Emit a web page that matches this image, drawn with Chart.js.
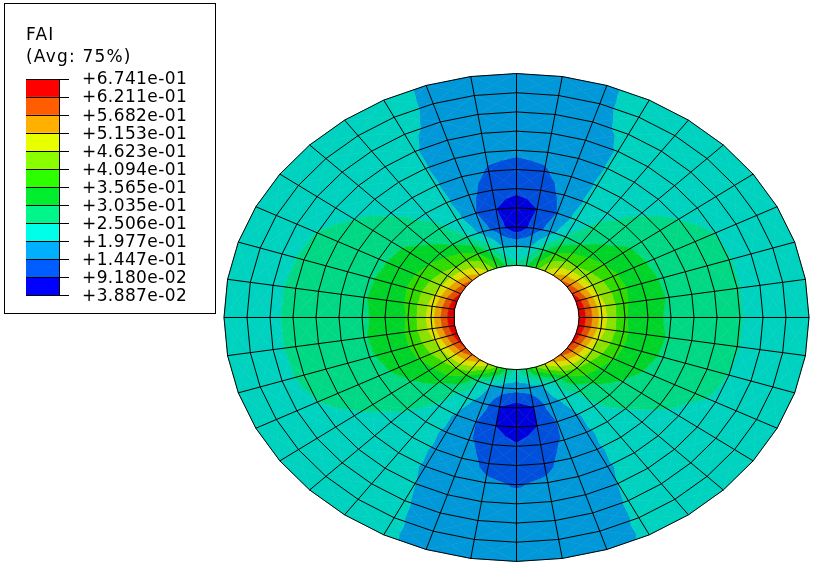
<!DOCTYPE html>
<html>
<head>
<meta charset="utf-8">
<title>FAI contour</title>
<script src="https://cdn.jsdelivr.net/npm/chart.js"></script>
<style>
  html, body { margin: 0; padding: 0; background: #fff; }
  #disc { position: absolute; left: 0; top: 0; }
  #keybox { position: absolute; left: 4px; top: 3px; width: 210px; height: 309px; border: 1px solid #000; background: #fff; }
  #key { position: absolute; left: 0; top: 0; }
  #keytitle { position: absolute; left: 26px; top: 23px; font: 17px/22px "DejaVu Sans"; letter-spacing: 1.2px; color: #000; white-space: pre; }
</style>
</head>
<body>
<canvas id="disc" width="819" height="571"></canvas>
<div id="keybox"></div>
<canvas id="key" width="216" height="319"></canvas>
<div id="keytitle">FAI
(Avg: 75%)</div>
<script>
// mesh: ring radii and spoke angles (degrees clockwise from top)
const ringRadii = [62.5, 85.5, 108.5, 131.5, 154.5, 177.5, 200.5, 223.5, 246.5, 269.5, 292.5];
const spokeAngles = [0, 9, 18, 27, 36, 45, 54, 63, 72, 81, 90, 99, 108, 117, 126, 135, 144, 153, 162, 171,
  180, 189, 198, 207, 216, 225, 234, 243, 252, 261, 270, 279, 288, 297, 306, 315, 324, 333, 342, 351];

// contour levels, top of the key first
const tickLabels = ['+6.741e-01', '+6.211e-01', '+5.682e-01', '+5.153e-01', '+4.623e-01', '+4.094e-01', '+3.565e-01',
  '+3.035e-01', '+2.506e-01', '+1.977e-01', '+1.447e-01', '+9.180e-02', '+3.887e-02'];
const levels = [0.03887, 0.0918, 0.1447, 0.1977, 0.2506, 0.3035, 0.3565, 0.4094, 0.4623, 0.5153, 0.5682, 0.6211, 0.6741];

// FAI at each node, one row per spoke, inner ring first
const nodalFai = [
  [.265, .19, .05, .05, .11, .13, .152, .155, .158, .16, .16],
  [.30, .2, .11, .092, .115, .14, .155, .155, .157, .16, .16],
  [.38, .28, .17, .145, .16, .165, .175, .18, .19, .193, .194],
  [.46, .36, .25, .215, .205, .202, .20, .20, .204, .206, .206],
  [.52, .395, .30, .262, .235, .225, .215, .21, .21, .212, .215],
  [.57, .41, .33, .29, .265, .245, .235, .225, .22, .218, .217],
  [.60, .43, .355, .318, .285, .272, .25, .235, .228, .225, .223],
  [.625, .45, .365, .325, .29, .282, .27, .25, .235, .23, .228],
  [.66, .47, .37, .325, .297, .288, .272, .252, .24, .233, .23],
  [.672, .485, .365, .322, .30, .287, .272, .252, .24, .235, .23],
  [.674, .49, .36, .32, .295, .285, .27, .252, .24, .235, .23],
  [.672, .485, .365, .322, .30, .287, .272, .252, .24, .235, .23],
  [.66, .47, .365, .32, .298, .287, .27, .25, .238, .233, .23],
  [.64, .45, .36, .315, .29, .28, .258, .245, .235, .23, .228],
  [.62, .43, .33, .30, .277, .258, .24, .232, .225, .222, .22],
  [.585, .41, .31, .28, .252, .232, .222, .218, .215, .213, .212],
  [.54, .36, .262, .24, .22, .215, .21, .208, .208, .208, .208],
  [.48, .26, .215, .19, .19, .193, .195, .198, .202, .203, .203],
  [.40, .20, .17, .145, .15, .16, .162, .165, .172, .178, .186],
  [.31, .17, .092, .09, .125, .135, .15, .155, .16, .16, .165],
  [.25, .16, .065, .05, .10, .125, .142, .155, .16, .16, .16],
  [.31, .17, .092, .09, .125, .135, .15, .155, .16, .16, .165],
  [.40, .20, .17, .145, .15, .16, .162, .165, .172, .178, .184],
  [.48, .26, .215, .19, .19, .193, .195, .198, .203, .205, .205],
  [.54, .36, .262, .24, .22, .215, .21, .208, .208, .208, .208],
  [.585, .41, .31, .28, .255, .235, .225, .22, .215, .213, .212],
  [.62, .43, .33, .30, .277, .26, .245, .235, .228, .222, .22],
  [.64, .45, .36, .315, .29, .28, .265, .25, .236, .23, .228],
  [.66, .47, .365, .32, .298, .287, .272, .258, .24, .233, .23],
  [.672, .485, .365, .322, .30, .287, .274, .26, .241, .235, .23],
  [.674, .49, .36, .322, .295, .285, .272, .262, .24, .235, .23],
  [.672, .485, .365, .322, .30, .287, .274, .26, .241, .235, .23],
  [.66, .47, .37, .325, .297, .288, .274, .256, .24, .233, .23],
  [.625, .45, .365, .325, .29, .282, .27, .252, .236, .23, .228],
  [.60, .43, .355, .318, .285, .272, .25, .235, .228, .225, .223],
  [.57, .41, .33, .29, .265, .245, .235, .225, .22, .218, .217],
  [.52, .395, .30, .262, .235, .225, .215, .21, .21, .212, .215],
  [.46, .36, .25, .215, .205, .202, .20, .20, .204, .206, .206],
  [.38, .28, .17, .145, .16, .165, .175, .18, .19, .193, .194],
  [.30, .2, .11, .092, .115, .14, .155, .155, .157, .16, .16]
];

// band colours low to high: as lit on the model, and flat in the key
const bandColors = ['#0000dc', '#0050dc', '#0098d8', '#00d2c0', '#00d884', '#00d428',
  '#30dc00', '#8ce000', '#dce000', '#e8a000', '#e05000', '#e00000'];
const keyColors = ['#0000ff', '#005dff', '#00b0ff', '#00ffe8', '#00f58b', '#00ee2e',
  '#2eff00', '#8bff00', '#e8ff00', '#ffb000', '#ff5d00', '#ff0000'];

function nodeXY(spoke, ring) {
  const a = spokeAngles[spoke % spokeAngles.length] * Math.PI / 180;
  return { x: ringRadii[ring] * Math.sin(a), y: ringRadii[ring] * Math.cos(a) };
}

// keep the part of a triangle on one side of a value (vertices carry x, y, v)
function clipAbove(poly, limit, sign) {
  const out = [];
  poly.forEach((p, i) => {
    const q = poly[(i + 1) % poly.length];
    const pIn = sign * (p.v - limit) >= 0;
    const qIn = sign * (q.v - limit) >= 0;
    if (pIn) out.push(p);
    if (pIn !== qIn) {
      const t = (limit - p.v) / (q.v - p.v);
      out.push({ x: p.x + t * (q.x - p.x), y: p.y + t * (q.y - p.y), v: limit });
    }
  });
  return out;
}

const contourBands = {
  id: 'contourBands',
  beforeDatasetsDraw(chart) {
    const { ctx, scales: { x, y } } = chart;
    ctx.save();
    ctx.lineWidth = 0.6;
    ctx.lineJoin = 'round';
    const fillTri = tri => {
      bandColors.forEach((color, b) => {
        let poly = tri;
        if (b > 0) poly = clipAbove(poly, levels[b], 1);
        if (poly.length && b < bandColors.length - 1) poly = clipAbove(poly, levels[b + 1], -1);
        if (poly.length < 3) return;
        ctx.beginPath();
        poly.forEach((p, i) => {
          const px = x.getPixelForValue(p.x), py = y.getPixelForValue(p.y);
          if (i) ctx.lineTo(px, py); else ctx.moveTo(px, py);
        });
        ctx.closePath();
        ctx.fillStyle = color;
        ctx.strokeStyle = color;
        ctx.fill();
        ctx.stroke();
      });
    };
    for (let s = 0; s < spokeAngles.length; s++) {
      const s2 = (s + 1) % spokeAngles.length;
      for (let r = 0; r < ringRadii.length - 1; r++) {
        const corners = [[s, r], [s2, r], [s2, r + 1], [s, r + 1]].map(([i, j]) => {
          const p = nodeXY(i, j);
          return { x: p.x, y: p.y, v: nodalFai[i][j] };
        });
        const mid = { x: 0, y: 0, v: 0 };
        corners.forEach(c => { mid.x += c.x / 4; mid.y += c.y / 4; mid.v += c.v / 4; });
        corners.forEach((c, i) => fillTri([c, corners[(i + 1) % 4], mid]));
      }
    }
    ctx.restore();
  }
};

const meshLine = data => ({
  data, showLine: true, borderColor: '#000', borderWidth: 1, pointRadius: 0, tension: 0, fill: false
});
const ringSets = ringRadii.map((_, r) => meshLine([...spokeAngles, 360].map((_, s) => nodeXY(s, r))));
const spokeSets = spokeAngles.map((_, s) => meshLine(ringRadii.map((_, r) => nodeXY(s, r))));

new Chart(document.getElementById('disc'), {
  type: 'scatter',
  data: { datasets: [...ringSets, ...spokeSets] },
  plugins: [contourBands],
  options: {
    responsive: false,
    animation: false,
    layout: { padding: 0 },
    plugins: { legend: { display: false }, tooltip: { enabled: false } },
    scales: {
      x: { type: 'linear', display: false, min: -516.5, max: 302.5 },
      y: { type: 'linear', display: false, min: -304, max: 380.7 }
    }
  }
});

// colour key: one stacked column on a 0..12 scale, labels on the ticks
const keySpacing = {
  id: 'keySpacing',
  beforeDraw(chart) { chart.ctx.letterSpacing = '0.4px'; }
};

new Chart(document.getElementById('key'), {
  type: 'bar',
  data: {
    labels: ['FAI'],
    datasets: keyColors.map((color, i) => ({
      data: [[i, i + 1]],
      backgroundColor: color,
      borderWidth: 0,
      barPercentage: 1,
      categoryPercentage: 1
    }))
  },
  plugins: [keySpacing],
  options: {
    responsive: false,
    animation: false,
    layout: { padding: { left: 26, top: 79, bottom: 14, right: 0 } },
    plugins: { legend: { display: false }, tooltip: { enabled: false } },
    scales: {
      x: { display: false, stacked: true },
      y: {
        position: 'right',
        min: 0,
        max: 12,
        afterFit(scale) { scale.width = 157; },
        grid: { color: '#000', lineWidth: 1, tickLength: 10, z: 1 },
        border: { color: '#000', width: 1, z: 1 },
        ticks: {
          stepSize: 1,
          autoSkip: false,
          padding: 13,
          labelOffset: 1,
          color: '#000',
          font: { family: 'DejaVu Sans', size: 17 },
          callback: value => tickLabels[12 - value]
        }
      }
    }
  }
});
</script>
</body>
</html>
